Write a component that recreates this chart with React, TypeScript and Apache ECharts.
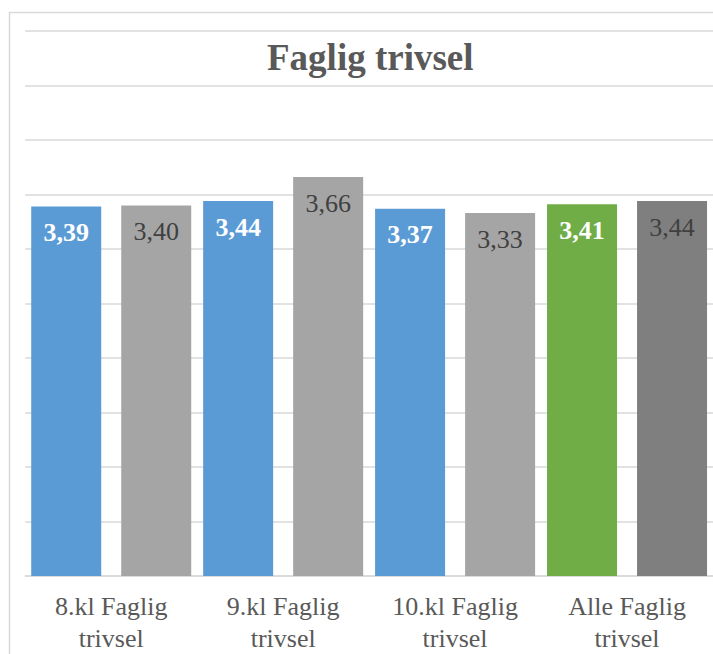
import React, { useEffect, useRef } from "react";
import * as echarts from "echarts";

const categories = ["8.kl Faglig trivsel", "9.kl Faglig trivsel", "10.kl Faglig trivsel", "Alle Faglig trivsel"];
const seriesA = [3.39, 3.44, 3.37, 3.41];
const seriesB = [3.40, 3.66, 3.33, 3.44];
const colorsA = ["#5B9BD5", "#5B9BD5", "#5B9BD5", "#70AD47"];
const colorsB = ["#A5A5A5", "#A5A5A5", "#A5A5A5", "#7F7F7F"];

const FONT = '"Liberation Serif", "Times New Roman", serif';

export default function App() {
  const ref = useRef<HTMLDivElement>(null);
  useEffect(() => {
    document.body.style.margin = "0";
    const chart = echarts.init(ref.current!, null, { renderer: "svg" });
    const fmt = (v: number) => v.toFixed(2).replace(".", ",");
    chart.setOption({
      animation: false,
      backgroundColor: "#ffffff",
      title: {
        text: "Faglig trivsel",
        left: 262,
        top: 34,
        textStyle: { fontFamily: FONT, fontSize: 37, fontWeight: "bold", color: "#595959" },
      },
      graphic: [
        {
          type: "rect",
          shape: { x: 9.5, y: 12.5, width: 800, height: 800 },
          style: { fill: "none", stroke: "#D9D9D9", lineWidth: 1.5 },
          silent: true,
        },
      ],
      grid: { left: 25.25, width: 694, top: 31, bottom: 76.5, containLabel: false },
      xAxis: {
        type: "category",
        data: categories,
        axisLine: { show: true, lineStyle: { color: "#D9D9D9", width: 1.5 } },
        axisTick: { show: false },
        axisLabel: {
          interval: 0,
          fontFamily: FONT,
          fontSize: 26,
          color: "#595959",
          lineHeight: 32,
          margin: 14,
          formatter: (v: string) => v.replace(" trivsel", "\ntrivsel"),
        },
      },
      yAxis: {
        type: "value",
        min: 0,
        max: 5,
        interval: 0.5,
        axisLabel: { show: false },
        axisLine: { show: false },
        axisTick: { show: false },
        splitLine: { lineStyle: { color: "#D9D9D9", width: 1.5 } },
      },
      series: [
        {
          type: "bar",
          barWidth: 70,
          barGap: "28.6%",
          data: seriesA.map((v, i) => ({ value: v, itemStyle: { color: colorsA[i] } })),
          label: {
            show: true,
            position: "insideTop",
            distance: 13,
            fontFamily: FONT,
            fontSize: 26,
            fontWeight: "bold",
            color: "#ffffff",
            formatter: (p: any) => fmt(p.value),
          },
        },
        {
          type: "bar",
          barWidth: 70,
          data: seriesB.map((v, i) => ({ value: v, itemStyle: { color: colorsB[i] } })),
          label: {
            show: true,
            position: "insideTop",
            distance: 13,
            fontFamily: FONT,
            fontSize: 26,
            color: "#404040",
            formatter: (p: any) => fmt(p.value),
          },
        },
      ],
    });
    return () => chart.dispose();
  }, []);
  return <div ref={ref} style={{ position: "fixed", left: 0, top: 0, width: 713, height: 654 }} />;
}
